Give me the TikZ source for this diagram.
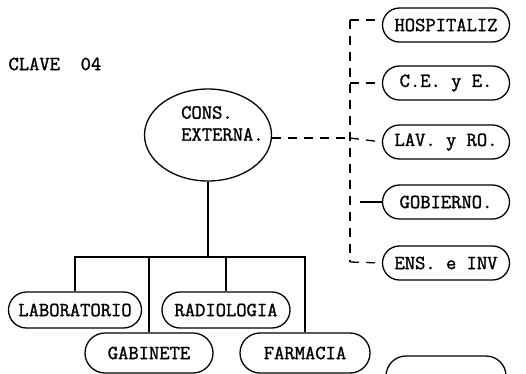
\documentclass[tikz,border=0pt]{standalone}
\usepackage{fontspec}
\newfontfamily\typew{Latin Modern Mono}[FakeBold=1.4]
\usetikzlibrary{shapes.geometric,shapes.misc}
\begin{document}
\begin{tikzpicture}[x=1pt,y=-1pt,
  every node/.style={font=\typew\fontsize{20}{22}\selectfont},
  unit/.style={draw,line width=1.3pt,rounded rectangle,minimum width=127pt,minimum height=34pt,inner sep=0pt},
  tree/.style={line width=2.3pt},
  dline/.style={line width=1.3pt,dash pattern=on 9pt off 7pt}]
\clip (0,0) rectangle (526,373);
\fill[white] (0,0) rectangle (526,373);
\node[anchor=west] (clave) at (5,64) {CLAVE\ \ 04};
\node[draw,ellipse,line width=1.3pt,minimum width=127pt,minimum height=92pt,inner sep=0pt] (ce) at (208,135) {};
\node[anchor=north west,align=left,inner sep=0pt] (cetext) at (181,106) {CONS.\\EXTERNA.};
% right units
\node[unit] (hos) at (446,25) {HOSPITALIZ};
\node[unit] (cee) at (446,83) {C.E. y E.};
\node[unit] (lav) at (446,142) {LAV. y RO.};
\node[unit] (gob) at (446,202) {GOBIERNO.};
\node[unit] (ens) at (446,263) {ENS. e INV};
\node[unit,minimum width=120pt,minimum height=40pt] (cut) at (446,376) {};
% bottom units
\node[unit,minimum width=133pt,minimum height=36pt] (lab) at (75,310) {LABORATORIO};
\node[unit,minimum width=128pt,minimum height=36pt] (rad) at (226,310) {RADIOLOGIA};
\node[unit,minimum width=128pt,minimum height=40pt] (gab) at (149,353) {GABINETE};
\node[unit,minimum width=130pt,minimum height=40pt] (far) at (305,353) {FARMACIA};
% dashed staff lines
\coordinate (vt) at (350,20);
\coordinate (vm) at (350,138);
\coordinate (vb) at (350,262);
\draw[dline] (ce.east |- vm) -- (vm);
\draw[dline] (vt) -- (vb);
\draw[dline] (vt) -- (hos.west |- vt);
\draw[dline] (350,83) -- (cee.west);
\draw[dline] (vm) -- (lav.west);
\draw[line width=1.3pt] (360,202) -- (gob.west);
\draw[dline] (vb) -- (ens.west);
% tree
\coordinate (bar) at (208,257);
\draw[tree] (ce.south) -- (bar);
\draw[tree] (lab.north -| 75,0) |- (far.north |- bar) -- (far.north);
\draw[tree] (gab.north) -- (gab.north |- bar);
\draw[tree] (rad.north) -- (rad.north |- bar);
\end{tikzpicture}
\end{document}
